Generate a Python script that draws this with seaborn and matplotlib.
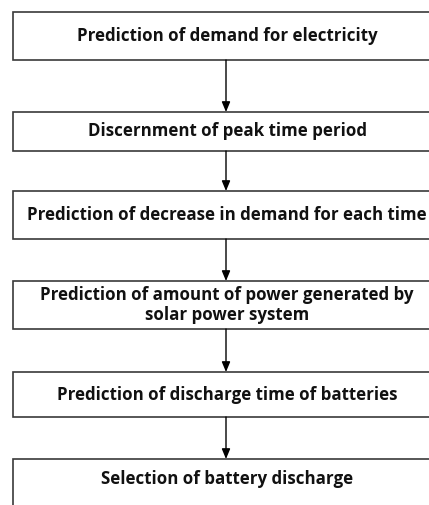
import matplotlib
matplotlib.use("Agg")
import matplotlib.pyplot as plt
from matplotlib.patches import Rectangle
import seaborn as sns

# flowchart steps, top to bottom
steps = [
    "Prediction of demand for electricity",
    "Discernment of peak time period",
    "Prediction of decrease in demand for each time",
    "Prediction of amount of power generated by\nsolar power system",
    "Prediction of discharge time of batteries",
    "Selection of battery discharge",
]

# layout (pixels, y grows downward)
W, H = 429, 505
box_left, box_right = 13, 440
box_top = [12, 112, 191, 281, 372, 459]
box_bottom = [60, 151, 239, 329, 417, 520]
arrow_x = 226

sns.set_theme(style="white")
plt.rcParams["font.family"] = ["Open Sans", "DejaVu Sans"]

fig = plt.figure(figsize=(W / 100, H / 100), dpi=100)
ax = fig.add_axes([0, 0, 1, 1])
ax.set_xlim(0, W)
ax.set_ylim(H, 0)
ax.axis("off")

for i, label in enumerate(steps):
    top, bot = box_top[i], box_bottom[i]
    ax.add_patch(Rectangle((box_left, top), box_right - box_left, bot - top,
                           facecolor="white", edgecolor="#3a3a3a", linewidth=1.2))
    cy = (top + bot) / 2 if i < len(steps) - 1 else 479
    ax.text(227, cy, label, ha="center", va="center",
            fontsize=12.2, fontweight="bold", color="#111111", linespacing=1.1)
    if i < len(steps) - 1:
        ax.annotate("", xy=(arrow_x, box_top[i + 1]), xytext=(arrow_x, bot),
                    arrowprops=dict(arrowstyle="-|>,head_width=0.25,head_length=0.6",
                                    color="black", lw=1.0,
                                    mutation_scale=10, shrinkA=0, shrinkB=0))

fig.savefig("out.png", dpi=100)
